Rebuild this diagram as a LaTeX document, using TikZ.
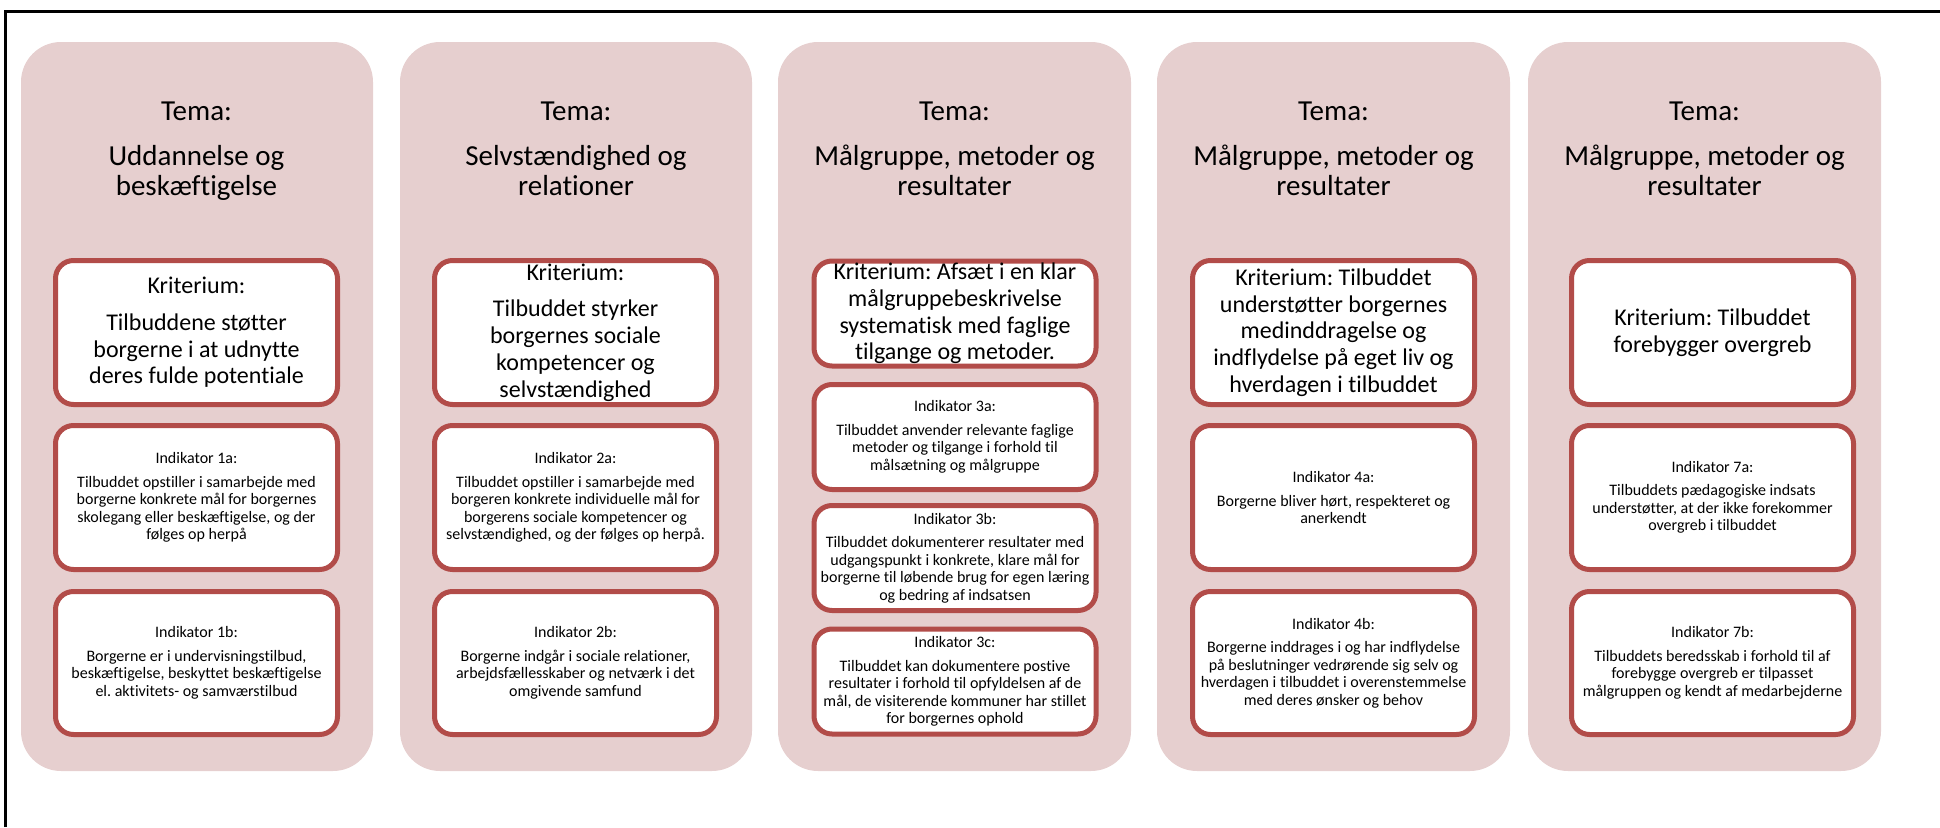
\documentclass[tikz,border=0pt]{standalone}
\usepackage{fontspec}
\setmainfont{Carlito}[Ligatures=NoCommon]
\frenchspacing
\usepackage{tikz}
\usetikzlibrary{positioning}

\definecolor{kolfill}{RGB}{230,207,207}
\definecolor{kantrod}{RGB}{178,76,73}

\tikzset{
  kolonne/.style={fill=kolfill, rounded corners=40pt, minimum width=352pt, minimum height=729pt, inner sep=0pt},
  tematekst/.style={anchor=north, align=center, inner sep=0pt, font=\fontsize{29}{30}\selectfont},
  kasse/.style={draw=kantrod, line width=5pt, fill=white, rounded corners=18pt, minimum width=282pt, align=center, inner sep=0pt},
  kriterie/.style={kasse, minimum height=144pt, font=\fontsize{24}{26.7}\selectfont},
  indikator/.style={kasse, minimum height=144pt, font=\fontsize{16}{17.5}\selectfont},
  smal/.style={minimum height=105pt}
}

\begin{document}
\begin{tikzpicture}[x=1pt, y=-1pt]
 \useasboundingbox (0,0) rectangle (1940,827);
 \draw[line width=3pt] (5.5,827) -- (5.5,11.5) -- (1940,11.5);

 % kolonner
 \node[kolonne] (kol1) at (197,406.5) {};
 \node[kolonne] (kol2) at (576,406.5) {};
 \node[kolonne, minimum width=353pt] (kol3) at (954.5,406.5) {};
 \node[kolonne, minimum width=353pt] (kol4) at (1333.5,406.5) {};
 \node[kolonne, minimum width=353pt] (kol5) at (1704.5,406.5) {};

 % temaer
 \node[tematekst] (tema1) at (196.5,102) {Tema:\\[15pt]Uddannelse og\\beskæftigelse};
 \node[tematekst] (tema2) at (576,102) {Tema:\\[15pt]Selvstændighed og\\relationer};
 \node[tematekst] (tema3) at (954.5,102) {Tema:\\[15pt]Målgruppe, metoder og\\resultater};
 \node[tematekst] (tema4) at (1333.5,102) {Tema:\\[15pt]Målgruppe, metoder og\\resultater};
 \node[tematekst] (tema5) at (1704.5,102) {Tema:\\[15pt]Målgruppe, metoder og\\resultater};

 % kolonne 1
 \node[kriterie] (krit1) at (196.5,332.5) {Kriterium:\\[10pt]Tilbuddene støtter\\borgerne i at udnytte\\deres fulde potentiale};
 \node[indikator] (ind1a) at (196.5,497.5) {Indikator 1a:\\[6pt]Tilbuddet opstiller i samarbejde med\\borgerne konkrete mål for borgernes\\skolegang eller beskæftigelse, og der\\følges op herpå};
 \node[indikator, minimum height=143pt] (ind1b) at (196.5,663) {Indikator 1b:\\[6pt]Borgerne er i undervisningstilbud,\\beskæftigelse, beskyttet beskæftigelse\\el. aktivitets- og samværstilbud};

 % kolonne 2
 \node[kriterie] (krit2) at (575.5,332.5) {Kriterium:\\[10pt]Tilbuddet styrker\\borgernes sociale\\kompetencer og\\selvstændighed};
 \node[indikator] (ind2a) at (575.5,497.5) {Indikator 2a:\\[6pt]Tilbuddet opstiller i samarbejde med\\borgeren konkrete individuelle mål for\\borgerens sociale kompetencer og\\selvstændighed, og der følges op herpå.};
 \node[indikator, minimum height=143pt] (ind2b) at (575.5,663) {Indikator 2b:\\[6pt]Borgerne indgår i sociale relationer,\\arbejdsfællesskaber og netværk i det\\omgivende samfund};

 % kolonne 3
 \node[kriterie, smal] (krit3) at (955,313.5) {Kriterium: Afsæt i en klar\\målgruppebeskrivelse\\systematisk med faglige\\tilgange og metoder.};
 \node[indikator, smal] (ind3a) at (955,437) {Indikator 3a:\\[6pt]Tilbuddet anvender relevante faglige\\metoder og tilgange i forhold til\\målsætning og målgruppe};
 \node[indikator, smal] (ind3b) at (955,558) {Indikator 3b:\\[6pt]Tilbuddet dokumenterer resultater med\\udgangspunkt i konkrete, klare mål for\\borgerne til løbende brug for egen læring\\og bedring af indsatsen};
 \node[indikator, smal] (ind3c) at (955,681.5) {Indikator 3c:\\[6pt]Tilbuddet kan dokumentere postive\\resultater i forhold til opfyldelsen af de\\mål, de visiterende kommuner har stillet\\for borgernes ophold};

 % kolonne 4
 \node[kriterie] (krit4) at (1333.5,332.5) {Kriterium: Tilbuddet\\understøtter borgernes\\medinddragelse og\\indflydelse på eget liv og\\hverdagen i tilbuddet};
 \node[indikator] (ind4a) at (1333.5,497.5) {Indikator 4a:\\[6pt]Borgerne bliver hørt, respekteret og\\anerkendt};
 \node[indikator, minimum height=143pt] (ind4b) at (1333.5,663) {Indikator 4b:\\[6pt]Borgerne inddrages i og har indflydelse\\på beslutninger vedrørende sig selv og\\hverdagen i tilbuddet i overenstemmelse\\med deres ønsker og behov};

 % kolonne 5
 \node[kriterie] (krit5) at (1712.5,332.5) {Kriterium: Tilbuddet\\forebygger overgreb};
 \node[indikator] (ind7a) at (1712.5,497.5) {Indikator 7a:\\[6pt]Tilbuddets pædagogiske indsats\\understøtter, at der ikke forekommer\\overgreb i tilbuddet};
 \node[indikator, minimum height=143pt] (ind7b) at (1712.5,663) {Indikator 7b:\\[6pt]Tilbuddets beredsskab i forhold til af\\forebygge overgreb er tilpasset\\målgruppen og kendt af medarbejderne};
\end{tikzpicture}
\end{document}
